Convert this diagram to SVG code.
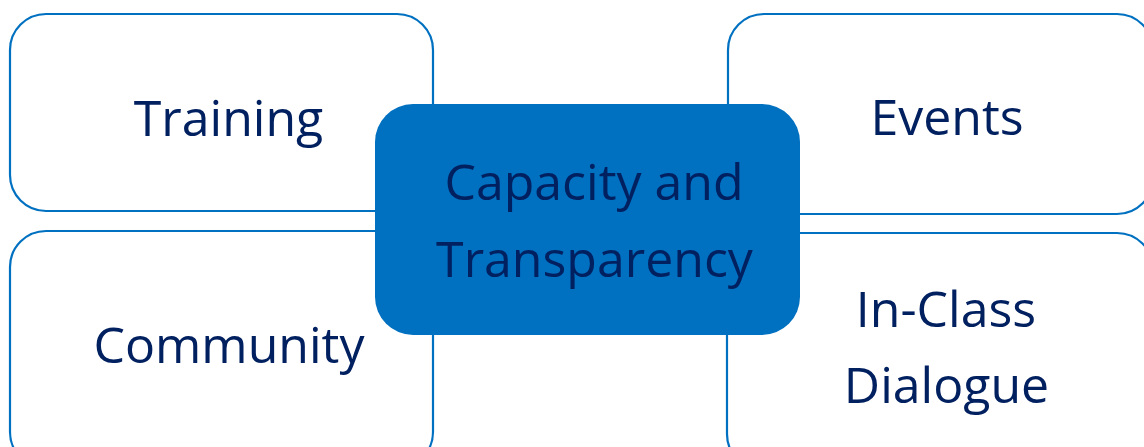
<svg xmlns="http://www.w3.org/2000/svg" width="1144" height="447" viewBox="0 0 1144 447">
  <style>
    .outer { fill: #ffffff; stroke: #0070C0; stroke-width: 2.2; }
    .hub { fill: #0070C0; stroke: none; }
    .label { font-family: "Open Sans", "Noto Sans", sans-serif; font-size: 50px; fill: #002060; text-anchor: middle; }
  </style>
  <rect width="1144" height="447" fill="#ffffff"/>
  <g id="connectors"></g>
  <g id="training">
    <rect class="outer" x="10" y="14" width="423" height="197" rx="36" ry="36"/>
    <text class="label" x="228.5" y="136">Training</text>
  </g>
  <g id="events">
    <rect class="outer" x="728" y="14" width="425" height="200" rx="36" ry="36"/>
    <text class="label" x="947" y="135">Events</text>
  </g>
  <g id="community">
    <rect class="outer" x="10" y="231" width="423" height="237" rx="36" ry="36"/>
    <text class="label" x="229" y="363">Community</text>
  </g>
  <g id="in-class-dialogue">
    <rect class="outer" x="727" y="233" width="426" height="237" rx="36" ry="36"/>
    <text class="label" x="946" y="327">In-Class</text>
    <text class="label" x="946.5" y="403">Dialogue</text>
  </g>
  <g id="capacity-transparency">
    <rect class="hub" x="375" y="104" width="425" height="231" rx="38" ry="38"/>
    <text class="label" x="594" y="200">Capacity and</text>
    <text class="label" x="594.5" y="277">Transparency</text>
  </g>
</svg>
